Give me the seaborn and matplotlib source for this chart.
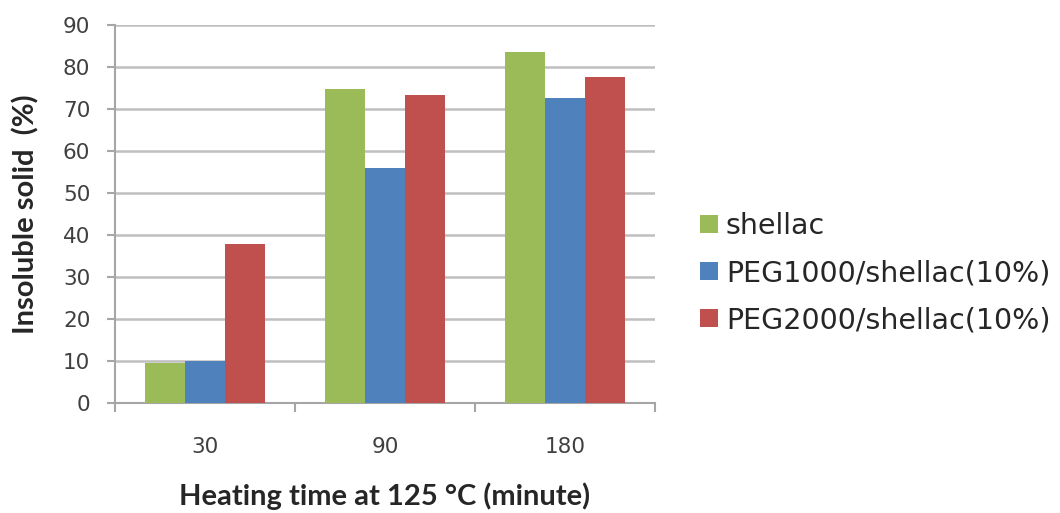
import matplotlib
matplotlib.use("Agg")
import matplotlib.pyplot as plt
import pandas as pd
import seaborn as sns

times = ["30", "90", "180"]
series = ["shellac", "PEG1000/shellac(10%)", "PEG2000/shellac(10%)"]
shellac = [9.5, 74.7, 83.6]
peg1000 = [10.0, 56.0, 72.5]
peg2000 = [37.8, 73.3, 77.5]
colors = ["#9BBB59", "#4F81BD", "#C0504D"]

rows = []
for name, vals in zip(series, [shellac, peg1000, peg2000]):
    for t, v in zip(times, vals):
        rows.append({"time": t, "series": name, "value": v})
df = pd.DataFrame(rows)

sns.set_style("white")
plt.rcParams["font.family"] = ["DejaVu Sans"]

fig = plt.figure(figsize=(10.6, 5.13), dpi=100)
ax = fig.add_axes([0.1085, 0.2144, 0.5094, 0.7375])
sns.barplot(data=df, x="time", y="value", hue="series", order=times,
            hue_order=series, palette=colors, width=0.667, saturation=1,
            errorbar=None, ax=ax, linewidth=0, zorder=3)

ax.set_ylim(0, 90)
ax.set_xlim(-0.5, 2.5)
ax.set_yticks(range(0, 91, 10))
ax.yaxis.grid(True, color="#BFBFBF", linewidth=1.8, zorder=0)
ax.set_axisbelow(True)
for s in ["top", "right"]:
    ax.spines[s].set_visible(False)
for s in ["left", "bottom"]:
    ax.spines[s].set_color("#A6A6A6")
    ax.spines[s].set_linewidth(1.5)

ax.tick_params(axis="y", length=5.8, color="#A6A6A6", width=1.5,
               labelsize=15.5, labelcolor="#404040", pad=12, left=True)
ax.tick_params(axis="x", which="major", length=0, labelsize=15.5,
               labelcolor="#404040", pad=24.5)
ax.set_xticks([-0.5, 0.5, 1.5, 2.5], minor=True)
ax.tick_params(axis="x", which="minor", length=6.5, color="#A6A6A6",
               width=1.5, bottom=True)

ax.set_xlabel("Heating time at 125 °C (minute)", fontsize=21,
              fontweight="bold", labelpad=18, family=["Lato", "DejaVu Sans"])
ax.set_ylabel("Insoluble solid  (%)", fontsize=21, fontweight="bold",
              labelpad=17, family=["Lato", "DejaVu Sans"])

ax.legend(loc="center left", bbox_to_anchor=(0.6604, 0.4678),
          bbox_transform=fig.transFigure, frameon=False, fontsize=20.5,
          handlelength=0.63, handleheight=0.63, handletextpad=0.28,
          labelspacing=0.67, borderpad=0, borderaxespad=0)

fig.savefig("out.png", dpi=100)
